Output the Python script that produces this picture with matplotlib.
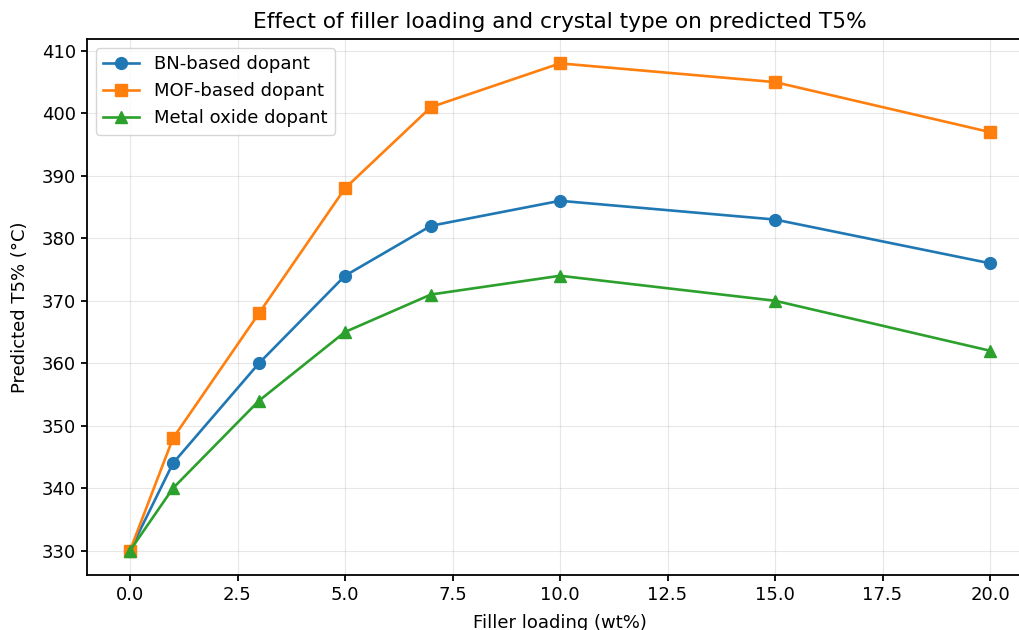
import numpy as np
import matplotlib
matplotlib.use("Agg")
import matplotlib.pyplot as plt

loading = [0, 1, 3, 5, 7, 10, 15, 20]
bn_t5 = [330, 344, 360, 374, 382, 386, 383, 376]
mof_t5 = [330, 348, 368, 388, 401, 408, 405, 397]
oxide_t5 = [330, 340, 354, 365, 371, 374, 370, 362]

W, H = 1019, 630
fig = plt.figure(figsize=(W / 100, H / 100), dpi=100)
# axes box in pixels (the original is cropped on the right and bottom)
left, right, bottom, top = 87, 1033, 55, 591
ax = fig.add_axes([left / W, bottom / H, (right - left) / W, (top - bottom) / H])

ax.plot(loading, bn_t5, marker='o', lw=1.9, ms=8.5, label='BN-based dopant')
ax.plot(loading, mof_t5, marker='s', lw=1.9, ms=8.5, label='MOF-based dopant')
ax.plot(loading, oxide_t5, marker='^', lw=1.9, ms=8.5, label='Metal oxide dopant')

ax.set_title('Effect of filler loading and crystal type on predicted T5%', fontsize=15.6, pad=8)
ax.set_xlabel('Filler loading (wt%)', fontsize=13, labelpad=7)
ax.set_ylabel('Predicted T5% (°C)', fontsize=13, labelpad=9)
ax.tick_params(labelsize=13, width=1.3, length=4.5)
for s in ax.spines.values():
    s.set_linewidth(1.3)
ax.grid(True, alpha=0.3)
ax.legend(loc='upper left', fontsize=13)

fig.savefig('out.png', dpi=100)
